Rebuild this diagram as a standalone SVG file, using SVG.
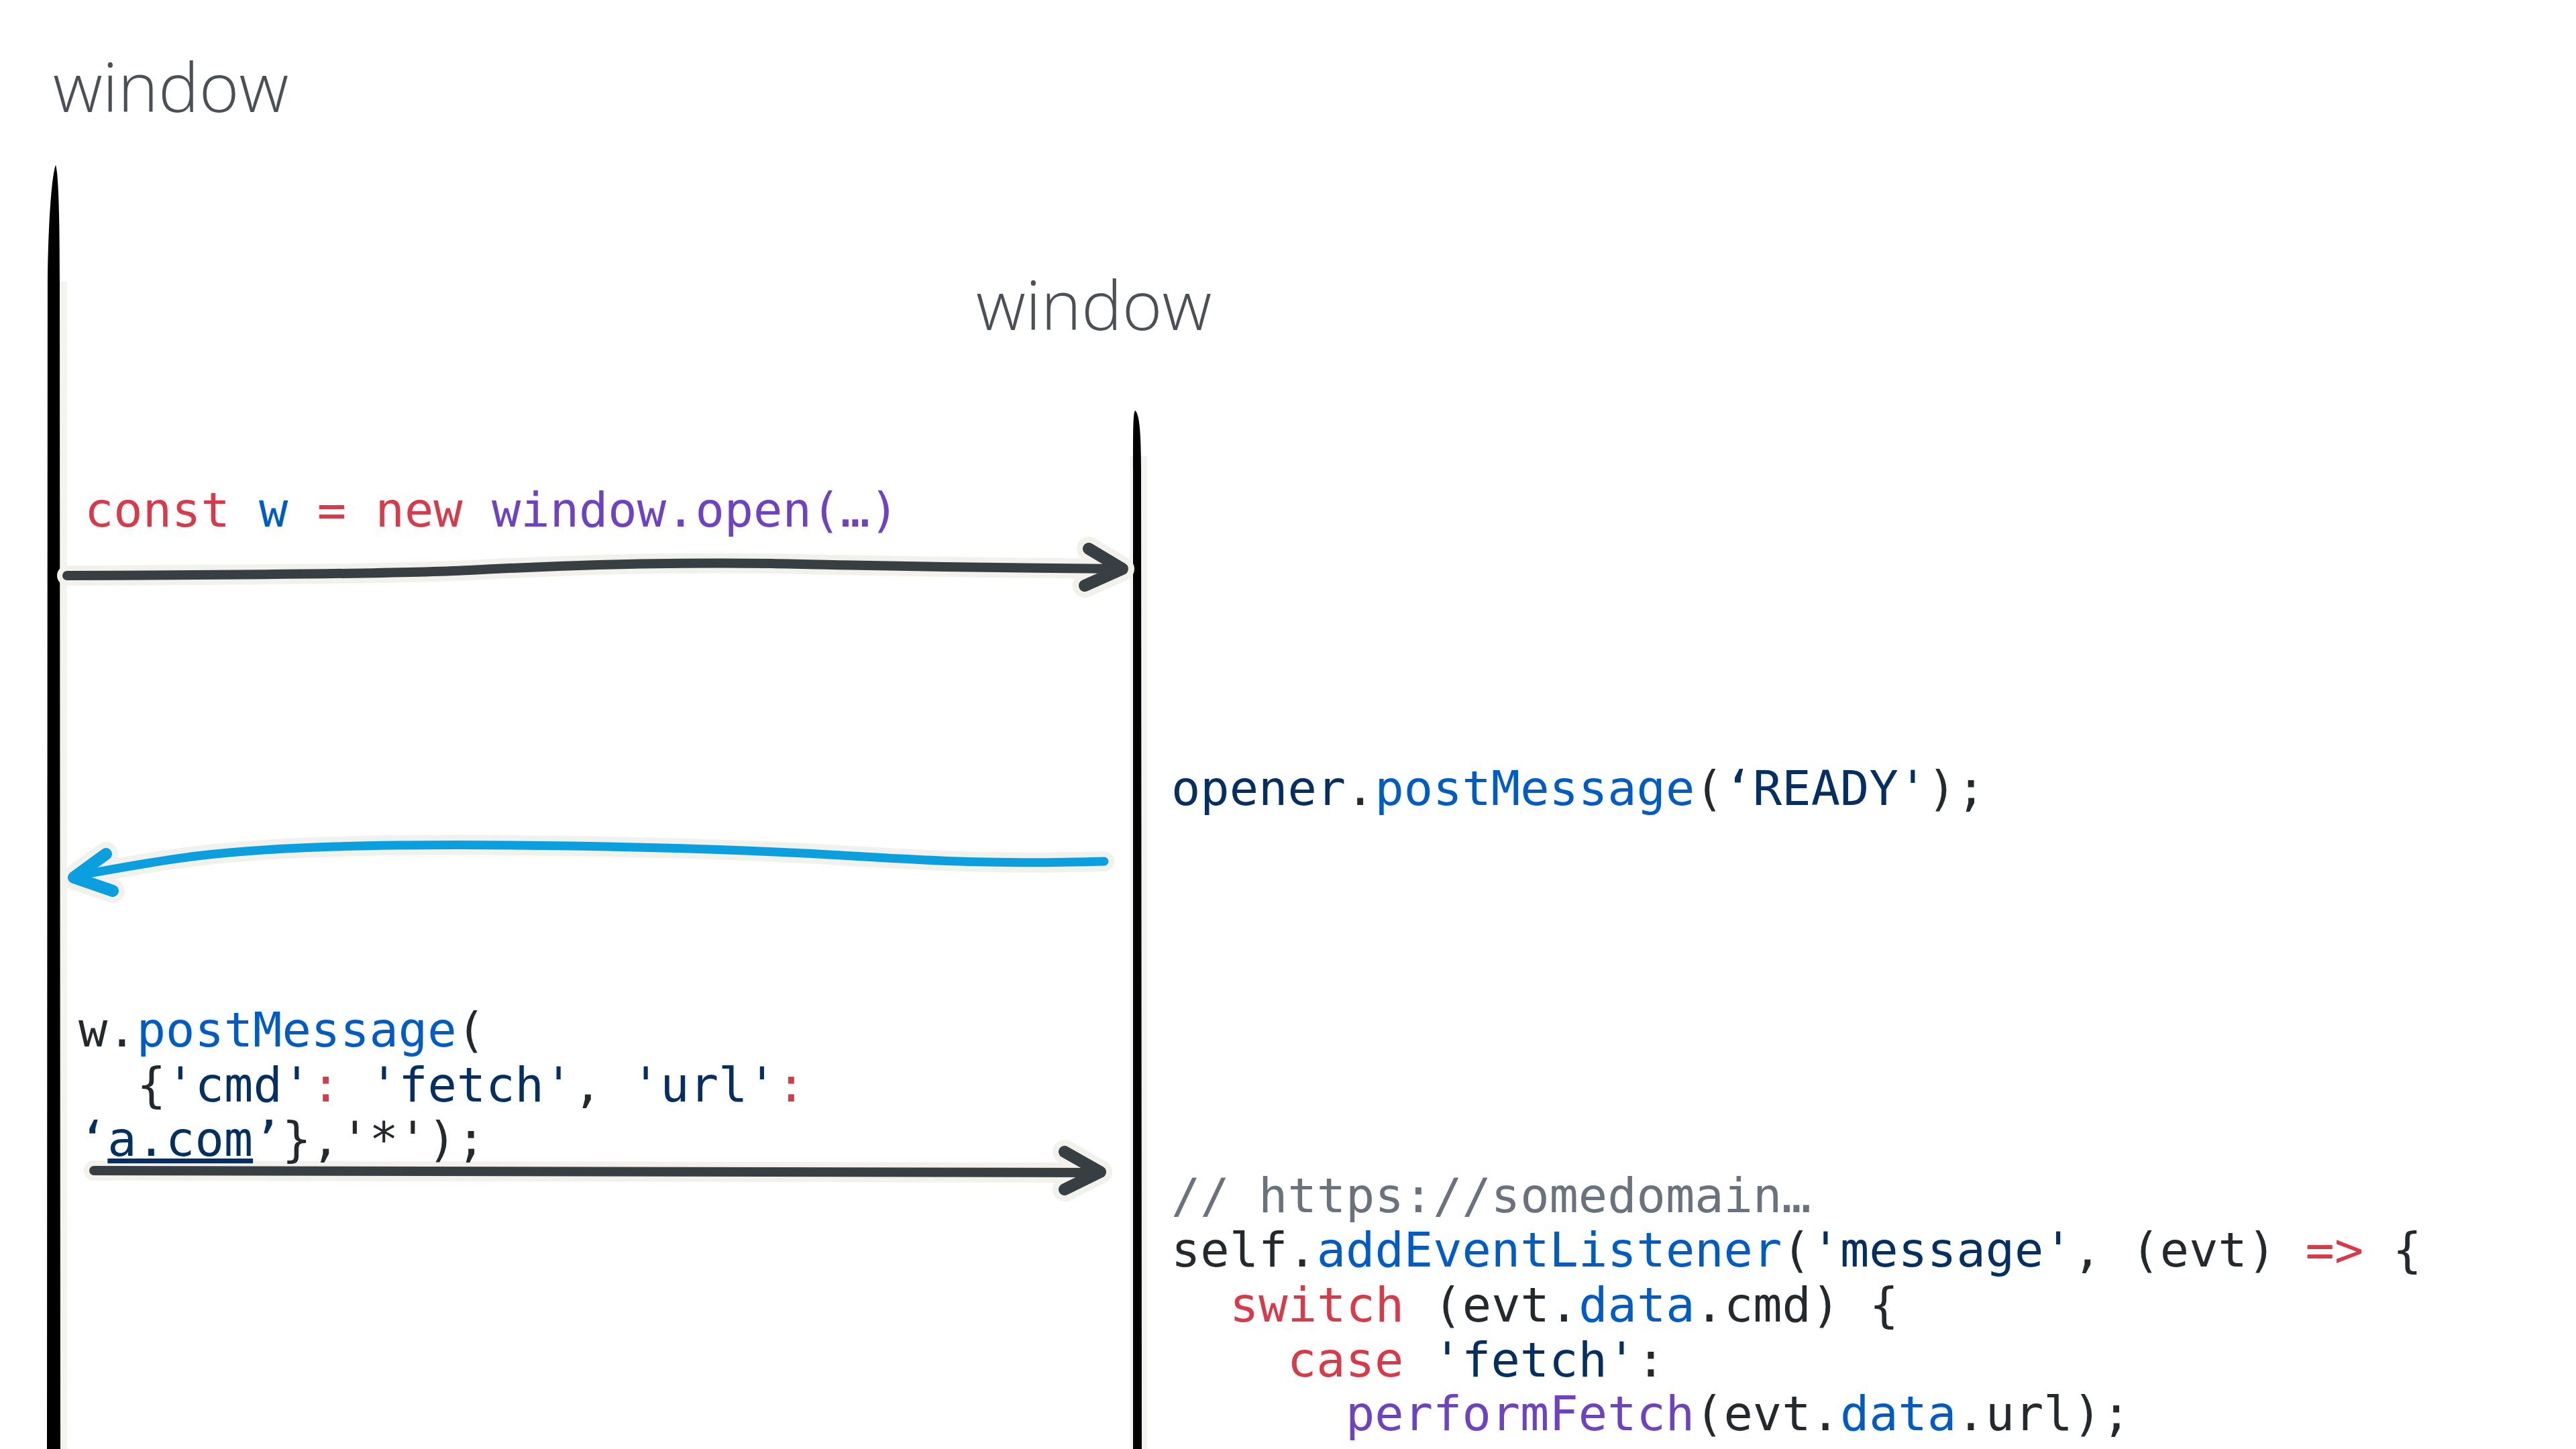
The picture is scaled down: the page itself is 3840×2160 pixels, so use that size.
<svg xmlns="http://www.w3.org/2000/svg" width="3840" height="2160" viewBox="0 0 3840 2160">
  <style>
    .title { font-family: "Open Sans", "Liberation Sans", sans-serif; font-weight: 300; font-size: 102px; fill: #4b5057; }
    .code { font-family: "DejaVu Sans Mono", "Liberation Mono", monospace; font-size: 72px; fill: #24292e; }
    .k { fill: #d73a49; }
    .b { fill: #005cc5; }
    .p { fill: #6f42c1; }
    .s { fill: #032f62; }
    .c { fill: #6a737d; }
    .halo { fill: none; stroke: #f2f1ec; stroke-linecap: round; stroke-linejoin: round; }
    .dark { fill: none; stroke: #383f43; stroke-linecap: round; stroke-linejoin: round; }
    .blue { fill: none; stroke: #0aa0e0; stroke-linecap: round; stroke-linejoin: round; }
  </style>
  <rect width="3840" height="2160" fill="#ffffff"/>

  <g id="window-opener">
    <text class="title" x="79" y="167">window</text>
    <path d="M70,420 L70,2160 L100,2160 L100,420 Z" fill="#f4f3ef"/>
    <path d="M83,246 C 87,258 89,320 89,420 L 90,2160 L 70,2160 L 71,420 C 72,320 78,258 83,246 Z" fill="#000000"/>
  </g>

  <g id="window-popup">
    <text class="title" x="1455" y="492">window</text>
    <path d="M1684,680 L1684,2160 L1710,2160 L1710,680 Z" fill="#f4f3ef"/>
    <path d="M1692,612 C 1698,616 1701,640 1701,700 L 1702,2160 L 1689,2160 L 1689,700 C 1689,640 1689,616 1692,612 Z" fill="#000000"/>
  </g>

  <g id="connectors">
    <g id="arrow-open">
      <path class="halo" stroke-width="30" d="M100,858 C 400,857 600,855 700,850 C 850,842 1000,838 1150,840 C 1300,843 1400,846 1668,848"/>
      <path class="halo" stroke-width="36" d="M1623,818 L1673,848 L1617,873"/>
      <path class="dark" stroke-width="14" d="M100,858 C 400,857 600,855 700,850 C 850,842 1000,838 1150,840 C 1300,843 1400,846 1668,848"/>
      <path class="dark" stroke-width="18" d="M1623,818 L1673,848 L1617,873"/>
    </g>
    <g id="arrow-ready">
      <path class="halo" stroke-width="30" d="M116,1305 C 230,1285 300,1268 500,1262 C 700,1256 1000,1262 1200,1272 C 1350,1280 1450,1290 1646,1284"/>
      <path class="halo" stroke-width="36" d="M158,1273 L110,1308 L168,1328"/>
      <path class="blue" stroke-width="13" d="M116,1305 C 230,1285 300,1268 500,1262 C 700,1256 1000,1262 1200,1272 C 1350,1280 1450,1290 1646,1284"/>
      <path class="blue" stroke-width="18" d="M158,1273 L110,1308 L168,1328"/>
    </g>
    <g id="arrow-postmessage">
      <path class="halo" stroke-width="30" d="M140,1745 C 600,1746 1100,1747 1636,1748"/>
      <path class="halo" stroke-width="36" d="M1587,1717 L1640,1747 L1587,1773"/>
      <path class="dark" stroke-width="14" d="M140,1745 C 600,1746 1100,1747 1636,1748"/>
      <path class="dark" stroke-width="18" d="M1587,1717 L1640,1747 L1587,1773"/>
    </g>
  </g>

  <g id="label-open">
    <text class="code" x="126" y="785"><tspan class="k">const</tspan> <tspan class="b">w</tspan> <tspan class="k">=</tspan> <tspan class="k">new</tspan> <tspan class="p">window.open(…)</tspan></text>
  </g>

  <g id="label-ready">
    <text class="code" x="1746" y="1200"><tspan class="s">opener</tspan>.<tspan class="b">postMessage</tspan>(<tspan class="s">‘READY'</tspan>);</text>
  </g>

  <g id="label-postmessage">
    <text class="code" x="117" y="1560">w.<tspan class="b">postMessage</tspan>(</text>
    <text class="code" x="204" y="1642">{<tspan class="s">'cmd'</tspan><tspan class="k">:</tspan> <tspan class="s">'fetch'</tspan>, <tspan class="s">'url'</tspan><tspan class="k">:</tspan></text>
    <text class="code" x="117" y="1723"><tspan class="s">‘</tspan><tspan class="s" text-decoration="underline">a.com</tspan><tspan class="s">’</tspan>},'*');</text>
  </g>

  <g id="label-listener">
    <text class="code c" x="1746" y="1807">// https://somedomain…</text>
    <text class="code" x="1746" y="1888">self.<tspan class="b">addEventListener</tspan>(<tspan class="s">'message'</tspan>, (evt) <tspan class="k">=&gt;</tspan> {</text>
    <text class="code" x="1833" y="1970"><tspan class="k">switch</tspan> (evt.<tspan class="b">data</tspan>.cmd) {</text>
    <text class="code" x="1919" y="2052"><tspan class="k">case</tspan> <tspan class="s">'fetch'</tspan>:</text>
    <text class="code" x="2006" y="2132"><tspan class="p">performFetch</tspan>(evt.<tspan class="b">data</tspan>.url);</text>
  </g>
</svg>
